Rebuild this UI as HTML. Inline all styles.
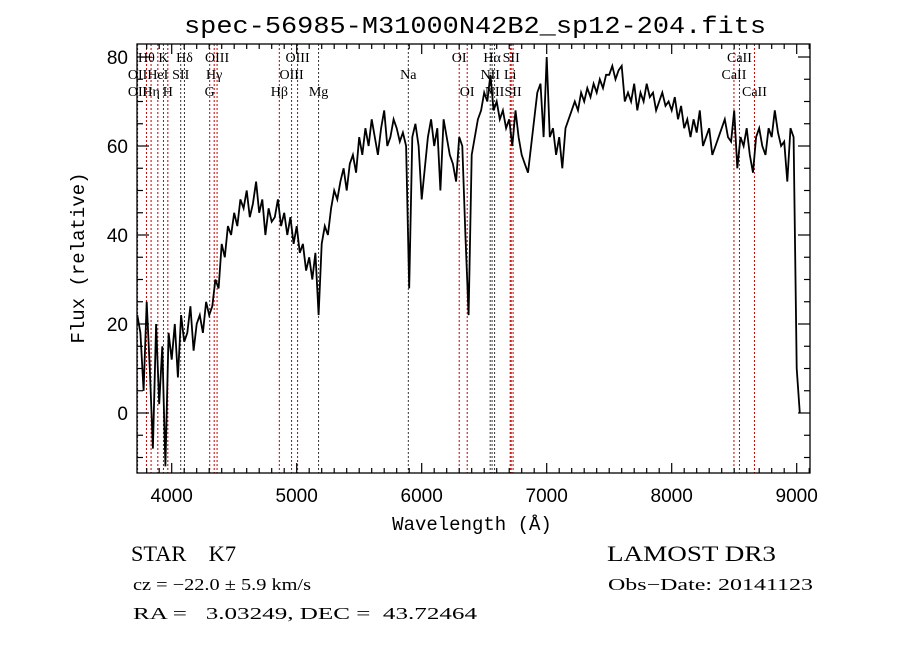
<!DOCTYPE html>
<html><head><meta charset="utf-8"><style>
html,body{margin:0;padding:0;background:#fff;}
svg{display:block;}
.lab{font-family:"Liberation Serif",serif;font-size:14px;}
</style></head><body>
<svg id="chart" width="900" height="649" viewBox="0 0 900 649">
<rect x="0" y="0" width="900" height="649" fill="#fff"/>
<text x="475" y="33" text-anchor="middle" style="font-family:'Liberation Mono',monospace;font-size:24px" textLength="582" lengthAdjust="spacingAndGlyphs">spec-56985-M31000N42B2_sp12-204.fits</text>
<g id="lines"></g>
<g id="linelabels"></g>
<g id="series"></g>
<rect x="137" y="44" width="673" height="429" fill="none" stroke="#000" stroke-width="1.3"/>
<g id="axes"></g>
<text x="472" y="530" text-anchor="middle" style="font-family:'Liberation Mono',monospace;font-size:19px">Wavelength (Å)</text>
<text transform="translate(84,258) rotate(-90)" text-anchor="middle" style="font-family:'Liberation Mono',monospace;font-size:19px">Flux (relative)</text>
<text x="131" y="561" style="font-family:'Liberation Serif',serif;font-size:22px;white-space:pre" textLength="105" lengthAdjust="spacingAndGlyphs">STAR    K7</text>
<text x="607" y="561" style="font-family:'Liberation Serif',serif;font-size:22px" textLength="169" lengthAdjust="spacingAndGlyphs">LAMOST DR3</text>
<text x="133" y="590" style="font-family:'Liberation Serif',serif;font-size:17px" textLength="178" lengthAdjust="spacingAndGlyphs">cz = −22.0 ± 5.9 km/s</text>
<text x="608" y="590" style="font-family:'Liberation Serif',serif;font-size:17px" textLength="205" lengthAdjust="spacingAndGlyphs">Obs−Date: 20141123</text>
<text x="133" y="619" style="font-family:'Liberation Serif',serif;font-size:17px;white-space:pre" textLength="344" lengthAdjust="spacingAndGlyphs">RA =   3.03249, DEC =  43.72464</text>
</svg>
<script>
const startWave = 3725;
const waveStep = 25;
const flux = [
22,18,5,25,10,-8,20,2,15,-12,18,
12,20,8,22,16,18,24,14,20,22,18,25,22,24,30,28,38,35,42,40,
45,42,48,46,50,44,47,52,45,48,40,46,43,44,48,42,45,40,44,38,
42,36,38,32,35,30,36,22,38,42,40,46,50,48,52,55,50,56,58,54,
62,58,64,60,66,62,58,64,68,60,62,66,64,61,63,60,28,62,65,60,
48,55,62,66,60,64,50,66,62,58,56,52,62,60,40,22,58,62,66,68,
72,70,76,68,70,66,68,64,66,60,68,62,58,56,54,60,66,72,74,62,
80,62,64,58,62,55,64,66,68,70,68,72,70,73,71,74,72,75,73,76,
76,78,75,77,78,70,72,70,74,68,72,70,74,71,72,68,70,72,69,70,
68,71,66,69,64,66,62,66,63,68,60,62,64,58,60,62,64,66,62,61,
68,55,62,60,64,58,54,62,64,60,58,64,62,68,63,60,61,52,64,62,
10,0];
const xTicks = [4000,5000,6000,7000,8000,9000];
const yTicks = [0,20,40,60,80];
const lineWaves = [3727,3798,3835,3889,3934,3969,4072,4102,4304,4340,4363,4861,4959,5007,5175,5893,6300,6364,6548,6563,6583,6708,6716,6731,8498,8542,8662];
const lineBlack = [0,0,0,0,0,0,1,1,0,0,0,0,0,0,1,1,0,0,1,1,1,0,0,0,0,0,0];
const labelText = ["Hθ","K","Hδ","OIII","OIII","OII","HeI","SII","Hγ","OIII","OII","Hη","H","G","Hβ","Mg","Na","OI","OI","Hα","SII","NII","Li","NII","SII","CaII","CaII","CaII"];
const labelWave = [3798,3934,4102,4363,5007,3727,3889,4072,4340,4959,3727,3835,3969,4304,4861,5175,5893,6300,6364,6563,6716,6548,6708,6583,6731,8542,8498,8662];
const labelRow = [0,0,0,0,0,1,1,1,1,1,2,2,2,2,2,2,1,0,2,0,0,1,1,2,2,0,1,2];

const X = w => 171.7 + (w-4000)*0.125;
const Y = f => 413 - f*4.45;
const NS = "http://www.w3.org/2000/svg";
function mk(tag, parent){const e=document.createElementNS(NS,tag);parent.appendChild(e);return e;}

const gl = document.getElementById('lines');
lineWaves.forEach((w,i)=>{
  const l = mk('line', gl);
  
  
  l.setAttribute('x1', X(w)); l.setAttribute('x2', X(w));
  l.setAttribute('y1', 44); l.setAttribute('y2', 473);
  l.setAttribute('stroke', lineBlack[i] ? '#333' : '#c00000');
  l.setAttribute('stroke-width', '1');
  l.setAttribute('stroke-dasharray', '2,2');
});
const glab = document.getElementById('linelabels');
const rowY = [62,79,96];
labelText.forEach((t,i)=>{
  const e = mk('text', glab);
  
  
  e.setAttribute('class','lab');
  e.setAttribute('x', X(labelWave[i]));
  e.setAttribute('y', rowY[labelRow[i]]);
  e.setAttribute('text-anchor','middle');
  e.textContent = t;
});

const gs = document.getElementById('series');
let pts = [];
flux.forEach((f,i)=>{
  const w = startWave + i*waveStep;
  pts.push(X(w).toFixed(1)+','+Y(Math.max(-13.5,Math.min(83,f))).toFixed(1));
});
const pl = mk('polyline', gs);


pl.setAttribute('points', pts.join(' '));
pl.setAttribute('fill','none');
pl.setAttribute('stroke','#000');
pl.setAttribute('stroke-width','1.8');
const clip = mk('clipPath', document.getElementById('chart'));
clip.setAttribute('id','pc');
const cr = mk('rect', clip);
cr.setAttribute('x',137);cr.setAttribute('y',44);cr.setAttribute('width',673);cr.setAttribute('height',429);
gs.setAttribute('clip-path','url(#pc)');

const ga = document.getElementById('axes');
function tick(x1,y1,x2,y2){const t=mk('line',ga);


t.setAttribute('x1',x1);t.setAttribute('y1',y1);t.setAttribute('x2',x2);t.setAttribute('y2',y2);t.setAttribute('stroke','#000');t.setAttribute('stroke-width','1.2');}
for(let w=3800; w<=9100; w+=100){
  const x=X(w); const major = w%1000===0; const len = major?10:5;
  tick(x,473,x,473-len); tick(x,44,x,44+len);
}
for(let f=-10; f<=80; f+=5){
  const y=Y(f); const major = f%20===0; const len = major?12:6;
  tick(137,y,137+len,y); tick(810,y,810-len,y);
}
xTicks.forEach(w=>{
  const t=mk('text',ga);
  
  
  t.setAttribute('x',X(w));t.setAttribute('y',502);t.setAttribute('text-anchor','middle');
  t.setAttribute('style','font-family:"Liberation Sans",sans-serif;font-size:19px');
  t.textContent=w;
});
yTicks.forEach(f=>{
  const t=mk('text',ga);
  
  
  t.setAttribute('x',128);t.setAttribute('y',Y(f)+7);t.setAttribute('text-anchor','end');
  t.setAttribute('style','font-family:"Liberation Sans",sans-serif;font-size:19px');
  t.textContent=f;
});
</script>
</body></html>
